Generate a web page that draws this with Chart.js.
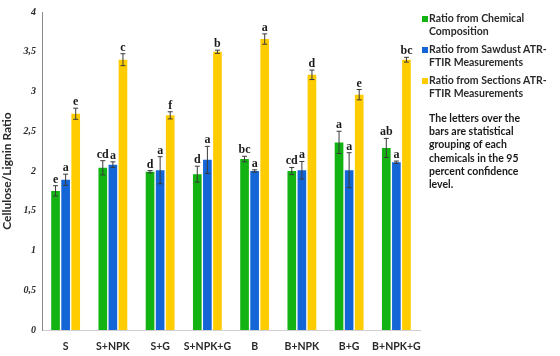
<!DOCTYPE html>
<html><head><meta charset="utf-8">
<script src="https://cdn.jsdelivr.net/npm/chart.js@4.4.0/dist/chart.umd.min.js"></script>
<style>
html,body{margin:0;padding:0;background:#fff;}
#wrap{position:relative;width:560px;height:356px;}
canvas{position:absolute;left:0;top:0;}
.leg{position:absolute;left:429px;font:bold 10.5px Lato,sans-serif;color:#2a2a2a;line-height:13px;width:128px;}
.sq{position:absolute;left:-7px;top:4px;width:6px;height:6px;}
#note{position:absolute;left:429px;top:112px;font:bold 10.5px Lato,sans-serif;color:#1a1a1a;line-height:13.2px;width:94px;}
</style></head>
<body>
<div id="wrap">
<canvas id="c" width="560" height="356"></canvas>
<div id="legend"></div>
<div id="note">The letters over the bars are statistical grouping of each chemicals in the 95 percent confidence level.</div>
</div>
<script>
const categories = ['S','S+NPK','S+G','S+NPK+G','B','B+NPK','B+G','B+NPK+G'];
const chemical = [1.75, 2.04, 1.99, 1.96, 2.15, 2.00, 2.36, 2.29];
const sawdust  = [1.89, 2.08, 2.01, 2.14, 2.00, 2.01, 2.01, 2.11];
const sections = [2.72, 3.40, 2.70, 3.50, 3.66, 3.21, 2.96, 3.40];
const chemicalErr = [0.065, 0.09, 0.015, 0.10, 0.035, 0.045, 0.14, 0.12];
const sawdustErr  = [0.07, 0.035, 0.17, 0.17, 0.015, 0.11, 0.22, 0.015];
const sectionsErr = [0.07, 0.075, 0.045, 0.02, 0.065, 0.06, 0.065, 0.03];
const chemicalLetters = ['e','cd','d','d','bc','cd','a','ab'];
const sawdustLetters  = ['a','a','a','a','a','a','a','a'];
const sectionsLetters = ['e','c','f','b','a','d','e','bc'];
const seriesNames = ['Ratio from Chemical Composition','Ratio from Sawdust ATR-FTIR Measurements','Ratio from Sections ATR-FTIR Measurements'];
const yTicks = [0,0.5,1,1.5,2,2.5,3,3.5,4];
const colors = ['#12b312','#1466d6','#ffcc00'];

const errs = [chemicalErr, sawdustErr, sectionsErr];
const letters = [chemicalLetters, sawdustLetters, sectionsLetters];

// legend
const legTops = [12, 43, 74];
const legend = document.getElementById('legend');
seriesNames.forEach((n,i)=>{
  const d = document.createElement('div');
  d.className='leg'; d.style.top = legTops[i]+'px';
  d.innerHTML = '<span class="sq" style="background:'+colors[i]+'"></span>'+n;
  legend.appendChild(d);
});

const errPlugin = {
  id:'err',
  afterDatasetsDraw(chart){
    const ctx = chart.ctx, y = chart.scales.y;
    chart.data.datasets.forEach((ds,di)=>{
      const meta = chart.getDatasetMeta(di);
      meta.data.forEach((bar,i)=>{
        const v = ds.data[i], e = errs[di][i];
        const yt = y.getPixelForValue(v+e), yb = y.getPixelForValue(v-e);
        const x = bar.x;
        ctx.save();
        ctx.strokeStyle='#3a3a3a'; ctx.lineWidth=1;
        ctx.beginPath();
        ctx.moveTo(x,yt); ctx.lineTo(x,yb);
        ctx.moveTo(x-2.5,yt); ctx.lineTo(x+2.5,yt);
        ctx.moveTo(x-2.5,yb); ctx.lineTo(x+2.5,yb);
        ctx.stroke();
        ctx.fillStyle='#1a1a1a';
        ctx.font='bold 12px "Liberation Serif", serif';
        ctx.textAlign='center'; ctx.textBaseline='alphabetic';
        ctx.fillText(letters[di][i], x, yt-3);
        ctx.restore();
      });
    });
  }
};

new Chart(document.getElementById('c'),{
  type:'bar',
  data:{
    labels:categories,
    datasets:[0,1,2].map(i=>({
      label:seriesNames[i],
      data:[chemical,sawdust,sections][i],
      backgroundColor:colors[i],
      borderWidth:0,
      barPercentage:0.86,
      categoryPercentage:0.64
    }))
  },
  options:{
    responsive:false,
    animation:false,
    devicePixelRatio:1,
    layout:{padding:{left:0,right:140,top:7,bottom:0}},
    plugins:{legend:{display:false},tooltip:{enabled:false}},
    scales:{
      x:{
        grid:{display:false,drawTicks:false},
        border:{display:true,color:'#d0d0d0',width:1},
        ticks:{color:'#2a2a2a',font:{family:'Lato',weight:'bold',size:10.5},padding:10,maxRotation:0,autoSkip:false},
        afterFit(s){s.height=26;}
      },
      y:{
        min:0,max:4,
        afterBuildTicks(s){s.ticks = yTicks.map(v=>({value:v}));},
        grid:{display:false,drawTicks:false},
        border:{display:true,color:'#8a8a8a',width:1},
        ticks:{color:'#2a2a2a',font:{family:'Liberation Serif',weight:'bold',style:'italic',size:10},padding:6,
          callback:(v)=>String(v).replace('.',',')},
        title:{display:true,text:'Cellulose/Lignin Ratio',color:'#2a2a2a',font:{family:'Lato',weight:'bold',size:12},padding:0},
        afterFit(s){s.width=42;}
      }
    }
  },
  plugins:[errPlugin]
});
</script>
</body></html>
